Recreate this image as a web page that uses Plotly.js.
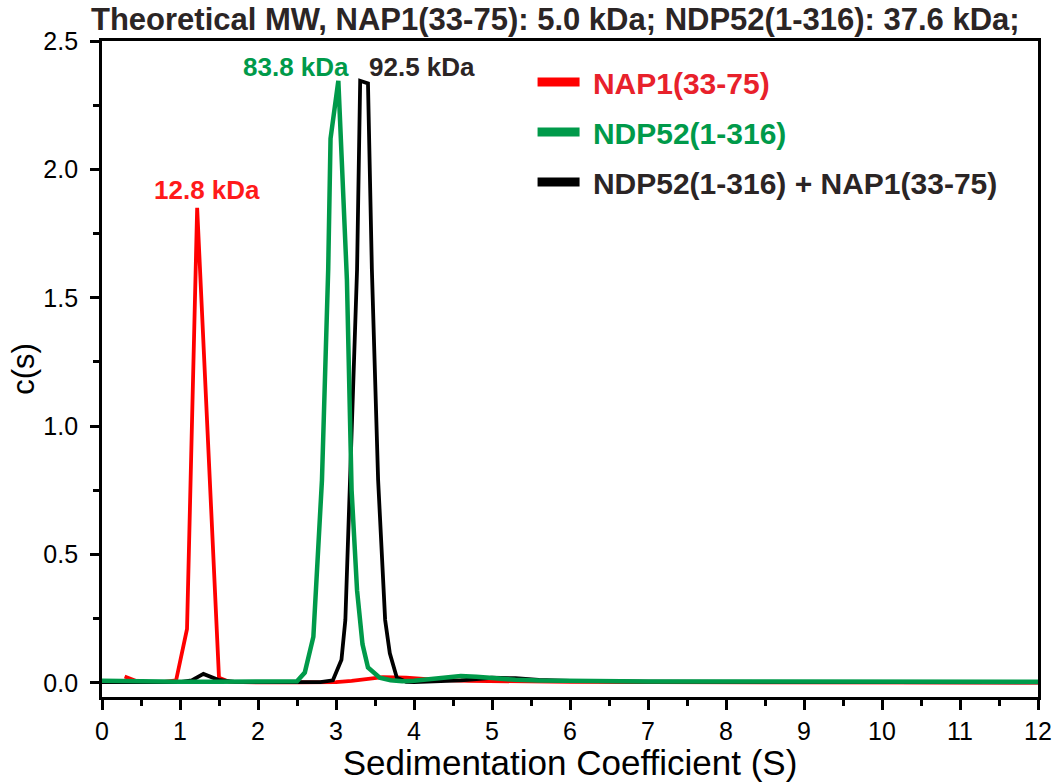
<!DOCTYPE html>
<html>
<head>
<meta charset="utf-8">
<script src="https://cdn.plot.ly/plotly-3.0.1.min.js"></script>
<style>html,body{margin:0;padding:0;background:#fff;}#chart{width:1058px;height:782px;}</style>
</head>
<body>
<div id="chart"></div>
<script>
// ---- data ----
const seriesNames = ["NAP1(33-75)", "NDP52(1-316)", "NDP52(1-316) + NAP1(33-75)"];
const seriesColors = ["#ff0000", "#009a4a", "#000000"];
const legendTextColors = ["#e8212b", "#009a4a", "#2b2525"];

const napX = [0.29, 0.43, 0.6, 0.8, 0.95, 1.09, 1.22, 1.36, 1.50, 1.63, 1.8, 2.0, 2.5, 3.0, 3.2, 3.45, 3.6, 3.9, 4.3, 4.7, 5.2, 6, 7, 8, 9, 10, 11, 12];
const napY = [0.025, 0.008, 0.004, 0.004, 0.01, 0.21, 1.85, 0.95, 0.02, 0.004, 0.002, 0.002, 0.002, 0.003, 0.008, 0.018, 0.022, 0.02, 0.012, 0.008, 0.006, 0.004, 0.003, 0.002, 0.002, 0.001, 0.001, 0.001];

const ndpX = [0, 0.5, 1, 1.5, 2, 2.3, 2.5, 2.6, 2.71, 2.82, 2.90, 2.93, 3.03, 3.14, 3.20, 3.27, 3.34, 3.41, 3.56, 3.7, 3.85, 4.0, 4.2, 4.4, 4.6, 4.8, 5.0, 5.3, 5.6, 6, 7, 8, 9, 10, 11, 12];
const ndpY = [0.008, 0.004, 0.004, 0.004, 0.004, 0.004, 0.006, 0.04, 0.18, 0.79, 1.61, 2.12, 2.345, 1.57, 0.75, 0.36, 0.15, 0.06, 0.02, 0.01, 0.006, 0.008, 0.015, 0.023, 0.027, 0.024, 0.018, 0.012, 0.009, 0.007, 0.005, 0.005, 0.004, 0.004, 0.004, 0.004];

const cplxX = [0, 0.5, 1.0, 1.15, 1.30, 1.49, 1.7, 2.0, 2.5, 2.8, 2.96, 3.07, 3.12, 3.18, 3.27, 3.31, 3.41, 3.46, 3.54, 3.63, 3.69, 3.78, 3.9, 4.0, 4.3, 4.6, 5.0, 5.3, 5.6, 6.0, 7, 8, 9, 10, 11, 12];
const cplxY = [0.003, 0.003, 0.003, 0.01, 0.035, 0.012, 0.004, 0.003, 0.003, 0.003, 0.01, 0.09, 0.245, 0.79, 1.61, 2.345, 2.335, 1.61, 0.79, 0.245, 0.115, 0.02, 0.004, 0.003, 0.005, 0.01, 0.02, 0.018, 0.012, 0.008, 0.005, 0.004, 0.003, 0.003, 0.002, 0.002];

const peakLabels = ["12.8 kDa", "83.8 kDa", "92.5 kDa"];
const peakLabelX = [1.35, 2.49, 4.10];
const peakLabelY = [1.92, 2.40, 2.40];
const peakLabelColors = ["#ff1a1a", "#009a4a", "#2b2525"];

const titleText = "Theoretical MW, NAP1(33-75): 5.0 kDa; NDP52(1-316): 37.6 kDa;";
const xTitle = "Sedimentation Coefficient (S)";
const yTitle = "c(s)";
const yTickVals = [0, 0.5, 1.0, 1.5, 2.0, 2.5];
const yTickText = ["0.0", "0.5", "1.0", "1.5", "2.0", "2.5"];
const xTickVals = [0,1,2,3,4,5,6,7,8,9,10,11,12];

// ---- traces ----
const FONT = "Liberation Sans, Arial, sans-serif";
const dataX = [napX, ndpX, cplxX];
const dataY = [napY, ndpY, cplxY];
const widths = [3.8, 4.5, 3.8];
const drawOrder = [0, 2, 1];
const traces = [];
drawOrder.forEach(i => {
  traces.push({
    x: dataX[i], y: dataY[i], type: "scatter", mode: "lines",
    line: {color: seriesColors[i], width: widths[i]},
    showlegend: false, hoverinfo: "x+y"
  });
});
// legend entries
[0,1,2].forEach(i => {
  traces.push({
    x: [null], y: [null], type: "scatter", mode: "lines",
    line: {color: seriesColors[i], width: 9},
    name: '<span style="color:' + legendTextColors[i] + '">\u00a0' + seriesNames[i] + '</span>',
    legendgroup: "g" + i, legendrank: i + 1, showlegend: true
  });
});

const annotations = peakLabels.map((t, i) => ({
  x: peakLabelX[i], y: peakLabelY[i], xref: "x", yref: "y",
  text: "<b>" + t + "</b>", showarrow: false,
  font: {family: FONT, size: 26, color: peakLabelColors[i]},
  xanchor: "center", yanchor: "middle"
}));

const layout = {
  width: 1058, height: 782,
  margin: {l: 102, r: 20, t: 41, b: 85, pad: 0},
  paper_bgcolor: "#ffffff", plot_bgcolor: "#ffffff",
  font: {family: FONT, color: "#000"},
  title: {
    text: "<b>" + titleText + "</b>",
    x: 91/1058, xanchor: "left", xref: "container",
    y: 1 - 19/782, yanchor: "middle", yref: "container",
    font: {family: FONT, size: 31, color: "#2b2525"}
  },
  xaxis: {
    range: [0, 12], tickvals: xTickVals, ticks: "outside", ticklen: 10, tickwidth: 3,
    tickcolor: "#000", showline: true, linewidth: 3, linecolor: "#000", mirror: true,
    showgrid: false, zeroline: false,
    tickfont: {family: FONT, size: 25, color: "#000"},
    minor: {dtick: 0.5, ticks: "outside", ticklen: 6, tickwidth: 3, tickcolor: "#000", showgrid: false},
    title: {text: xTitle, font: {family: FONT, size: 35, color: "#000"}, standoff: 6}
  },
  yaxis: {
    range: [-0.055, 2.5], tickvals: yTickVals, ticktext: yTickText.map(t => t + "\u00a0"), ticks: "outside", ticklen: 9, tickwidth: 3,
    tickcolor: "#000", showline: true, linewidth: 3, linecolor: "#000", mirror: true,
    showgrid: false, zeroline: false,
    tickfont: {family: FONT, size: 25, color: "#000"},
    minor: {dtick: 0.25, ticks: "outside", ticklen: 6, tickwidth: 3, tickcolor: "#000", showgrid: false},
    title: {text: yTitle, font: {family: FONT, size: 31, color: "#000"}, standoff: 0}
  },
  showlegend: true,
  legend: {
    x: 0.46, y: 0.977, xanchor: "left", yanchor: "top",
    bgcolor: "rgba(0,0,0,0)", borderwidth: 0,
    font: {family: FONT, size: 30, weight: "bold"},
    tracegroupgap: 8, itemwidth: 42
  },
  annotations: annotations
};

Plotly.newPlot("chart", traces, layout, {displayModeBar: false, staticPlot: true});
</script>
</body>
</html>
